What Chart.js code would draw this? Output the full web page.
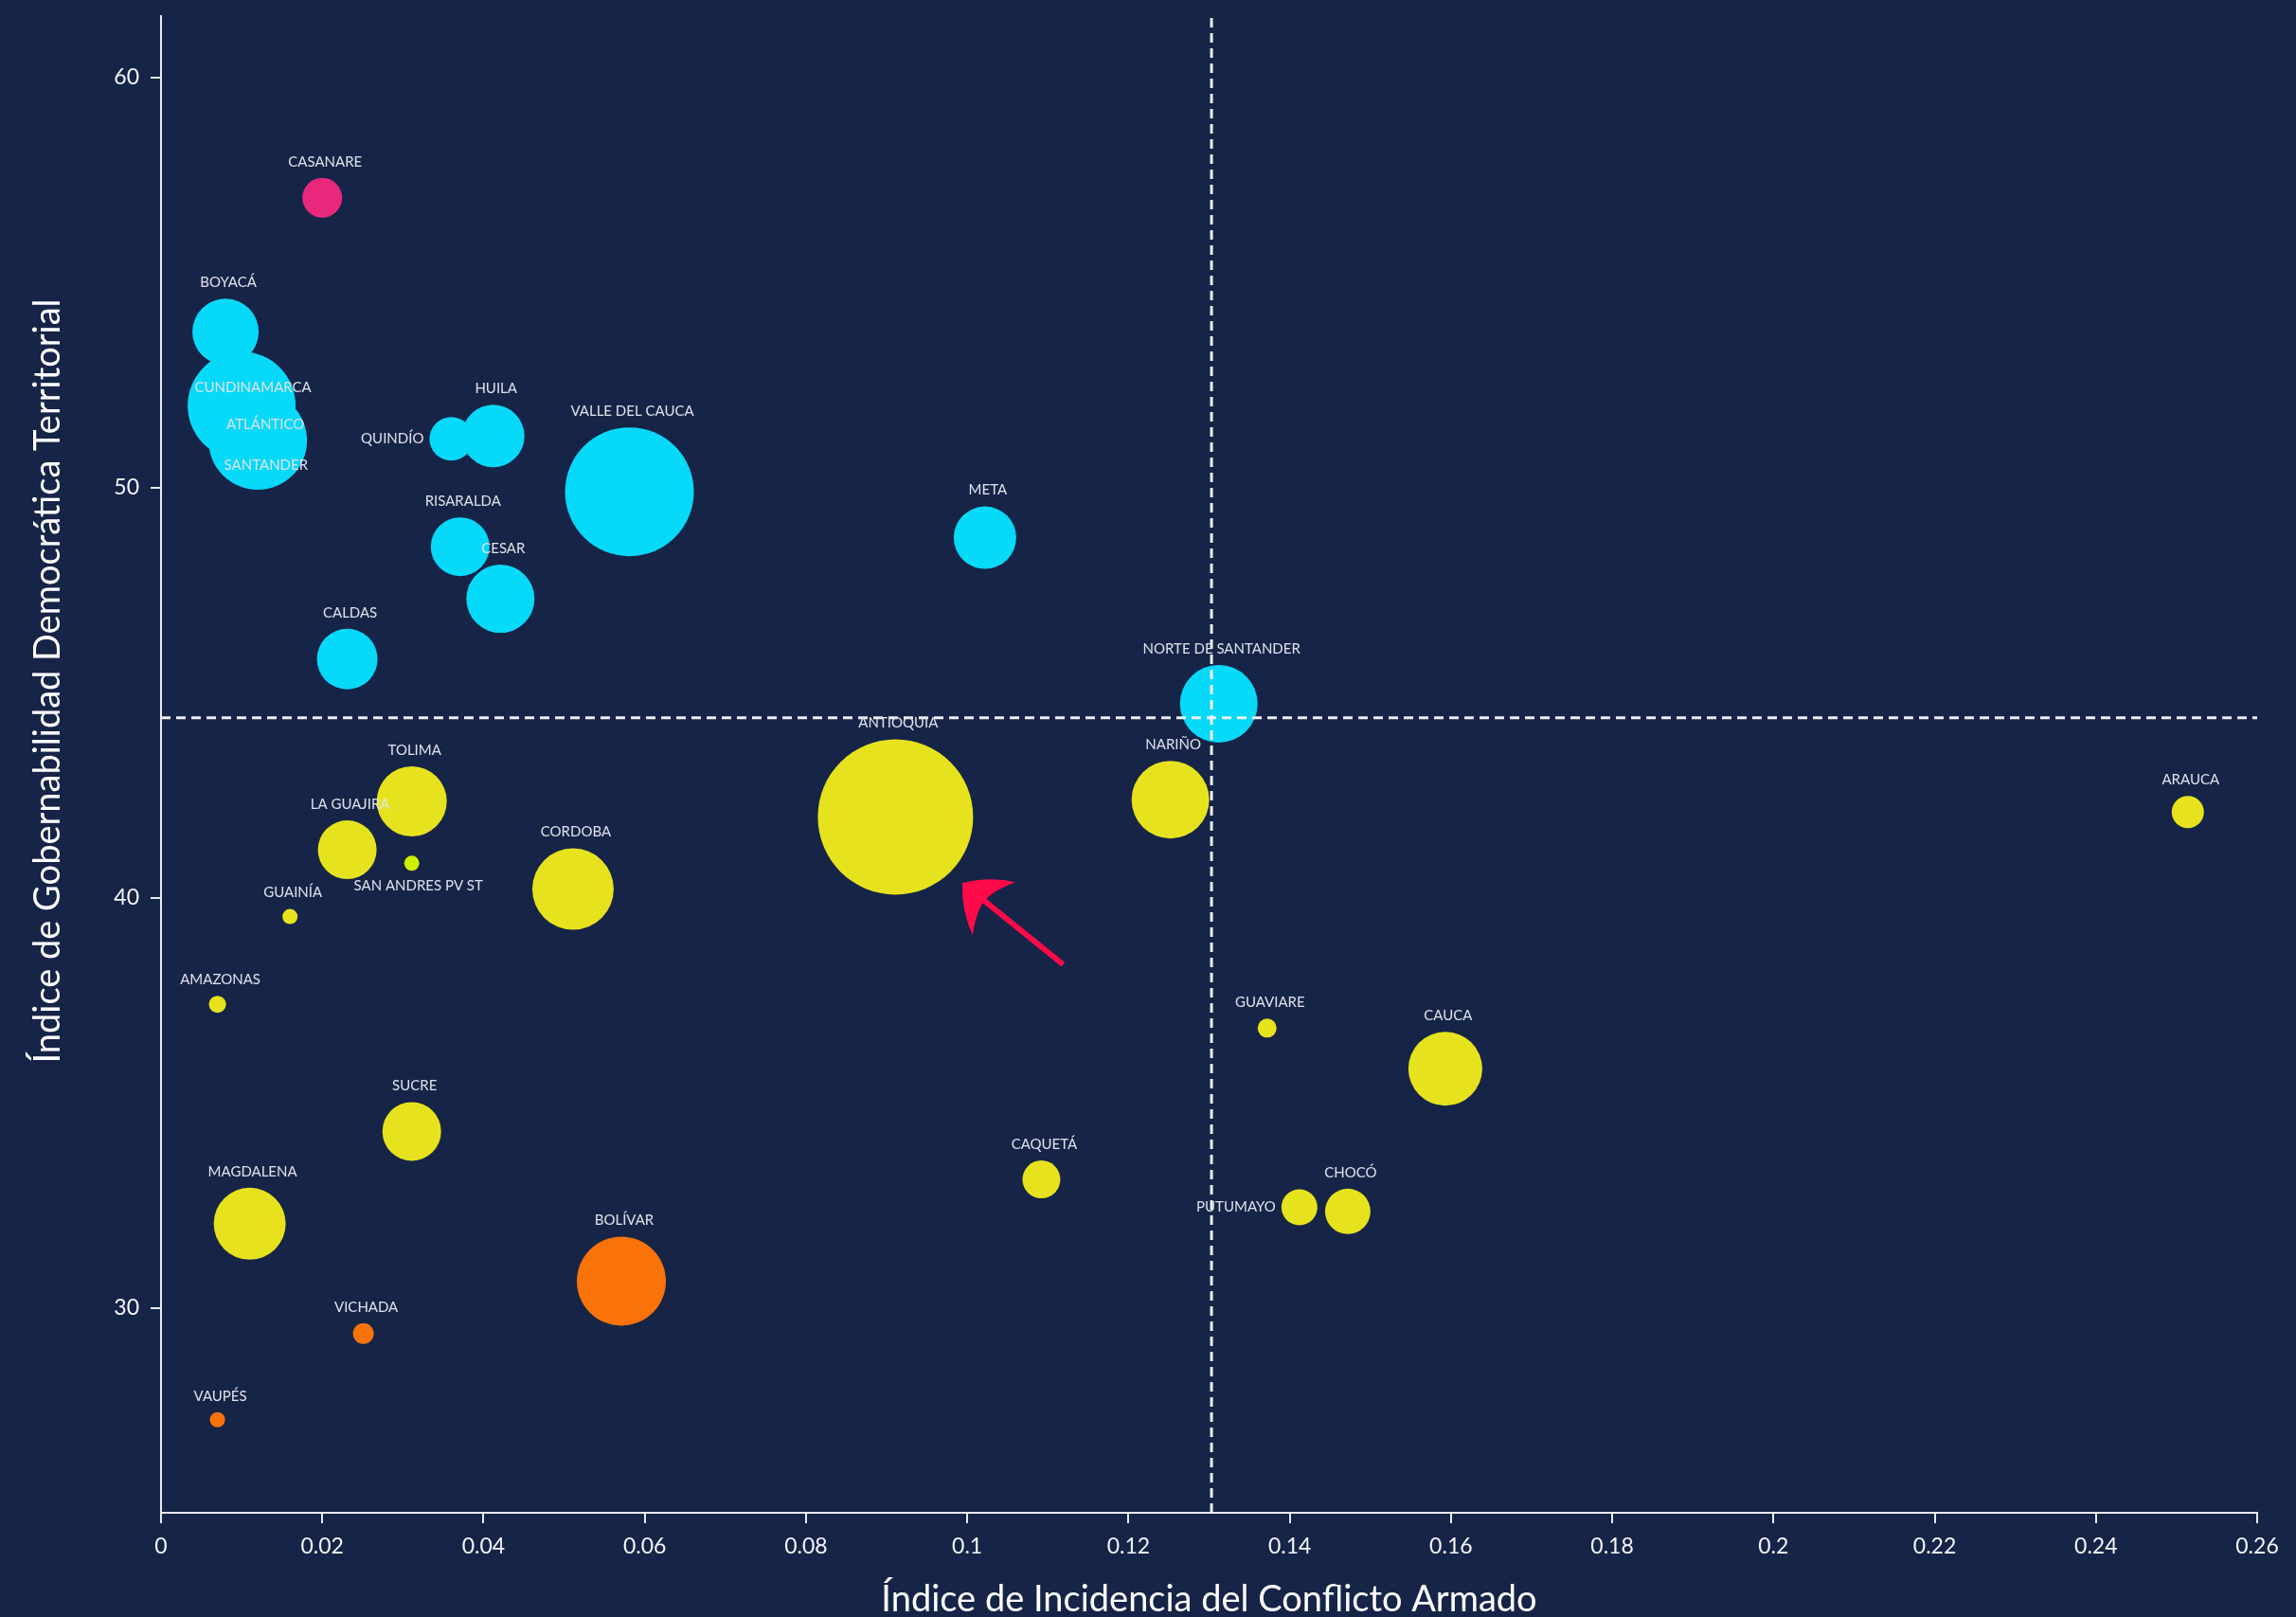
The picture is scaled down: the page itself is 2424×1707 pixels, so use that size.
<!DOCTYPE html>
<html lang="es">
<head>
<meta charset="UTF-8">
<title>Gobernabilidad y Conflicto Armado por departamento</title>
<script src="https://cdn.jsdelivr.net/npm/chart.js"></script>
<style>
  html, body { margin: 0; padding: 0; background: #162447; }
  .wrap { width: 2424px; height: 1707px; position: relative; }
</style>
</head>
<body>
<div class="wrap"><canvas id="grafico"></canvas></div>
<script>
const departamentos = ['CASANARE', 'BOYACÁ', 'CUNDINAMARCA', 'ATLÁNTICO', 'SANTANDER', 'QUINDÍO', 'HUILA',
  'VALLE DEL CAUCA', 'META', 'RISARALDA', 'CESAR', 'CALDAS', 'NORTE DE SANTANDER', 'ANTIOQUIA', 'NARIÑO',
  'TOLIMA', 'LA GUAJIRA', 'SAN ANDRES PV ST', 'CORDOBA', 'GUAINÍA', 'ARAUCA', 'AMAZONAS', 'GUAVIARE', 'CAUCA',
  'SUCRE', 'CAQUETÁ', 'MAGDALENA', 'PUTUMAYO', 'CHOCÓ', 'BOLÍVAR', 'VICHADA', 'VAUPÉS'];

// Índice de Incidencia del Conflicto Armado (eje x)
const incidencia = [0.0200, 0.0080, 0.0100, 0.0120, 0.0122, 0.0360, 0.0412, 0.0581, 0.1022, 0.0371, 0.0421,
  0.0231, 0.1312, 0.0911, 0.1252, 0.0311, 0.0231, 0.0311, 0.0511, 0.0160, 0.2514, 0.0070, 0.1372, 0.1593,
  0.0311, 0.1092, 0.0110, 0.1412, 0.1472, 0.0571, 0.0251, 0.0070];

// Índice de Gobernabilidad Democrática Territorial (eje y)
const gobernabilidad = [57.07, 53.80, 52.00, 51.15, 51.00, 51.19, 51.26, 49.90, 48.78, 48.56, 47.29, 45.82,
  44.73, 41.97, 42.39, 42.35, 41.17, 40.84, 40.21, 39.54, 42.09, 37.40, 36.82, 35.83, 34.30, 33.13, 32.05,
  32.45, 32.35, 30.65, 29.37, 27.27];

// tamaño de la burbuja
const tamano = [21, 35, 57, 52, 42, 23, 33, 68, 33, 31, 36, 32, 41, 82, 41, 37, 31, 8, 43, 8, 17, 9, 10, 39,
  31, 20, 38, 19, 24, 47, 11, 8];

const grupo = ['G4', 'G1', 'G1', 'G1', 'G1', 'G1', 'G1', 'G1', 'G1', 'G1', 'G1', 'G1', 'G1', 'G2', 'G2',
  'G2', 'G2', 'G5', 'G2', 'G2', 'G2', 'G2', 'G2', 'G2', 'G2', 'G2', 'G2', 'G2', 'G2', 'G3', 'G3', 'G3'];

const xTicks = [0, 0.02, 0.04, 0.06, 0.08, 0.1, 0.12, 0.14, 0.16, 0.18, 0.2, 0.22, 0.24, 0.26];
const yTicks = [30, 40, 50, 60];

const promedioIncidencia = 0.1303;
const promedioGobernabilidad = 44.39;

// flecha que señala a Antioquia
const flecha = { desde: [0.1119, 38.37], hasta: [0.0994, 40.36] };

const colores = { G1: '#07d9f9', G2: '#e6e31e', G3: '#f97308', G4: '#e9287c', G5: '#cff000' };
const FUENTE = 'Lato, "Open Sans", sans-serif';
const tituloY = 'Índice de Gobernabilidad Democrática Territorial';

// etiquetas que no van encima de su burbuja
const etiquetaLado = { 'QUINDÍO': 'izq', 'PUTUMAYO': 'izq', 'SAN ANDRES PV ST': 'abajo' };
const etiquetaDesplazada = { 'CUNDINAMARCA': [12, -19], 'ATLÁNTICO': [8, -17], 'SANTANDER': [7, 20] };

const puntos = departamentos.map((d, i) => ({ x: incidencia[i], y: gobernabilidad[i], r: tamano[i] }));

const extras = {
  id: 'extras',
  afterDatasetsDraw(chart) {
    const ctx = chart.ctx;
    const xs = chart.scales.x, ys = chart.scales.y;

    // nombres de los departamentos
    const meta = chart.getDatasetMeta(0);
    ctx.save();
    ctx.font = '15px ' + FUENTE;
    ctx.fillStyle = '#dfe2ea';
    ctx.textBaseline = 'middle';
    meta.data.forEach((pt, i) => {
      const nombre = departamentos[i];
      const r = pt.options.radius;
      const desp = etiquetaDesplazada[nombre];
      const lado = etiquetaLado[nombre];
      if (desp) {
        ctx.textAlign = 'center';
        ctx.fillText(nombre, pt.x + desp[0], pt.y + desp[1]);
      } else if (lado === 'izq') {
        ctx.textAlign = 'right';
        ctx.fillText(nombre, pt.x - r - 6, pt.y);
      } else if (lado === 'abajo') {
        ctx.textAlign = 'center';
        ctx.fillText(nombre, pt.x + 7, pt.y + r + 16);
      } else {
        ctx.textAlign = 'center';
        ctx.fillText(nombre, pt.x + 3, pt.y - r - 17);
      }
    });
    ctx.restore();

    // flecha
    const x0 = xs.getPixelForValue(flecha.desde[0]), y0 = ys.getPixelForValue(flecha.desde[1]);
    const x1 = xs.getPixelForValue(flecha.hasta[0]), y1 = ys.getPixelForValue(flecha.hasta[1]);
    const largo = Math.hypot(x1 - x0, y1 - y0);
    ctx.save();
    ctx.translate(x1, y1);
    ctx.rotate(Math.atan2(y1 - y0, x1 - x0));
    ctx.strokeStyle = '#fe0a4a';
    ctx.fillStyle = '#fe0a4a';
    ctx.lineWidth = 6;
    ctx.beginPath();
    ctx.moveTo(-largo, 0);
    ctx.lineTo(-28, 0);
    ctx.stroke();
    ctx.beginPath();
    ctx.moveTo(0, 0);
    ctx.quadraticCurveTo(-18, -24, -43, -36);
    ctx.quadraticCurveTo(-30, -14, -30, 0);
    ctx.quadraticCurveTo(-30, 14, -43, 36);
    ctx.quadraticCurveTo(-18, 24, 0, 0);
    ctx.fill();
    ctx.restore();
  },
  afterDraw(chart) {
    const ctx = chart.ctx;
    ctx.save();
    ctx.translate(51, 719);
    ctx.rotate(-Math.PI / 2);
    ctx.font = '38px ' + FUENTE;
    ctx.fillStyle = '#ffffff';
    ctx.textAlign = 'center';
    ctx.textBaseline = 'middle';
    ctx.fillText(tituloY, 0, 0);
    ctx.restore();
  }
};

const lineaGuia = {
  type: 'line',
  borderColor: '#eef0f4',
  borderWidth: 3,
  borderDash: [10, 6],
  pointRadius: 0,
  fill: false,
  order: 0
};

new Chart(document.getElementById('grafico'), {
  type: 'bubble',
  data: {
    datasets: [
      {
        label: 'Departamentos',
        data: puntos,
        backgroundColor: grupo.map(g => colores[g]),
        borderWidth: 0,
        order: 1
      },
      Object.assign({ label: 'Promedio incidencia', data: [{ x: promedioIncidencia, y: 25 }, { x: promedioIncidencia, y: 61.5 }] }, lineaGuia),
      Object.assign({ label: 'Promedio gobernabilidad', data: [{ x: 0, y: promedioGobernabilidad }, { x: 0.26, y: promedioGobernabilidad }] }, lineaGuia)
    ]
  },
  options: {
    responsive: true,
    maintainAspectRatio: false,
    animation: false,
    events: [],
    layout: { autoPadding: false, padding: { top: 17, right: 41, left: 0, bottom: 0 } },
    plugins: { legend: { display: false }, tooltip: { enabled: false } },
    scales: {
      x: {
        type: 'linear',
        min: 0,
        max: 0.26,
        afterBuildTicks: s => { s.ticks = xTicks.map(v => ({ value: v })); },
        afterFit: s => { s.height = 110; },
        border: { display: true, color: '#e9eaef', width: 2 },
        grid: { drawOnChartArea: false, drawTicks: true, tickLength: 11, color: '#e9eaef', lineWidth: 2 },
        ticks: {
          color: '#f4f5f8',
          font: { family: FUENTE, size: 23 },
          padding: 11,
          maxRotation: 0,
          autoSkip: false,
          callback: v => String(+v.toFixed(2))
        },
        title: {
          display: true,
          text: 'Índice de Incidencia del Conflicto Armado',
          color: '#ffffff',
          font: { family: FUENTE, size: 38 },
          padding: { top: 0, bottom: -5 }
        }
      },
      y: {
        type: 'linear',
        min: 25,
        max: 61.5,
        afterBuildTicks: s => { s.ticks = yTicks.map(v => ({ value: v })); },
        afterFit: s => { s.width = 170; s.paddingTop = 0; s.paddingBottom = 0; },
        border: { display: true, color: '#e9eaef', width: 2 },
        grid: { drawOnChartArea: false, drawTicks: true, tickLength: 11, color: '#e9eaef', lineWidth: 2 },
        ticks: {
          color: '#f4f5f8',
          font: { family: FUENTE, size: 23 },
          padding: 12
        }
      }
    }
  },
  plugins: [extras]
});
</script>
</body>
</html>
